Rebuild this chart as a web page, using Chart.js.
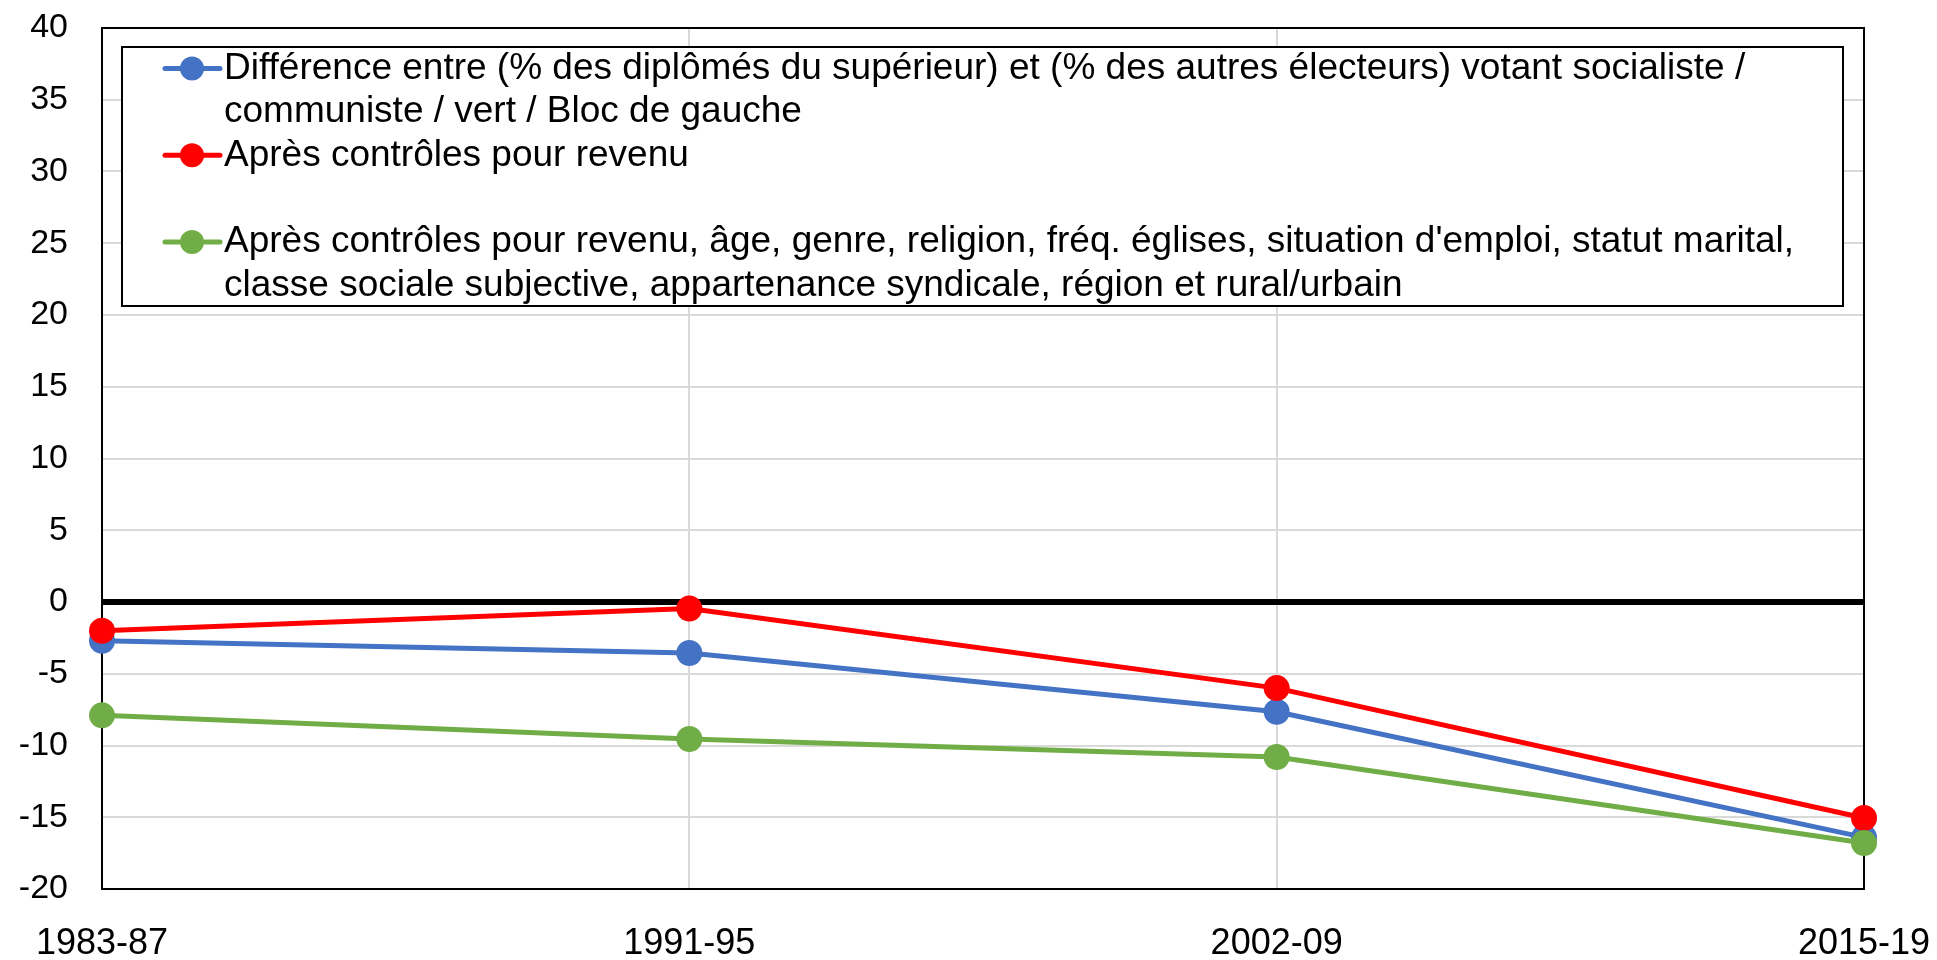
<!DOCTYPE html>
<html>
<head>
<meta charset="utf-8">
<script src="https://cdn.jsdelivr.net/npm/chart.js@4/dist/chart.umd.min.js"></script>
<style>
  body { margin: 0; background: #fff; }
</style>
</head>
<body>
<canvas id="graphique" width="1937" height="960"></canvas>
<script>
// Données
const periodes = ['1983-87', '1991-95', '2002-09', '2015-19'];
const ecartBrut = [-2.7, -3.55, -7.65, -16.4];
const apresRevenu = [-2.0, -0.45, -6.0, -15.05];
const apresTousControles = [-7.9, -9.55, -10.8, -16.8];
const axeY = { min: -20, max: 40, pas: 5 };

const libelles = [
    ['Différence entre (% des diplômés du supérieur) et (% des autres électeurs) votant socialiste /',
     'communiste / vert / Bloc de gauche'],
    ['Après contrôles pour revenu'],
    ['Après contrôles pour revenu, âge, genre, religion, fréq. églises, situation d\'emploi, statut marital,',
     'classe sociale subjective, appartenance syndicale, région et rural/urbain']
];
const couleurs = ['#4472C4', '#FF0000', '#70AD47'];

const police = 'Liberation Sans, Arial, sans-serif';

// Cadre noir + légende dessinée à l'intérieur de la zone du graphique
const cadreEtLegende = {
    id: 'cadreEtLegende',
    beforeDatasetsDraw(chart) {
        const { ctx, chartArea: a } = chart;
        ctx.save();
        ctx.strokeStyle = '#000';
        ctx.lineWidth = 2;
        ctx.strokeRect(a.left, a.top, a.right - a.left, a.bottom - a.top);

        // boîte de légende
        const bx = a.left + 20, by = a.top + 19;
        const bw = a.right - 21 - bx, bh = 306 - by;
        ctx.fillStyle = '#fff';
        ctx.fillRect(bx, by, bw, bh);
        ctx.lineWidth = 2;
        ctx.strokeRect(bx, by, bw, bh);

        ctx.font = '37px ' + police;
        ctx.textBaseline = 'middle';
        ctx.textAlign = 'left';
        const ligne = 43.4;
        const y0 = by + 21.5;
        libelles.forEach((lignes, i) => {
            const yMarque = y0 + ligne * 2 * i;
            ctx.strokeStyle = couleurs[i];
            ctx.fillStyle = couleurs[i];
            ctx.lineWidth = 5;
            ctx.lineCap = 'round';
            ctx.beginPath();
            ctx.moveTo(bx + 43, yMarque);
            ctx.lineTo(bx + 98, yMarque);
            ctx.stroke();
            ctx.beginPath();
            ctx.arc(bx + 70, yMarque, 12, 0, Math.PI * 2);
            ctx.fill();
            ctx.fillStyle = '#000';
            lignes.forEach((t, j) => ctx.fillText(t, bx + 102, yMarque + ligne * j));
        });
        ctx.restore();
    }
};

const ctx = document.getElementById('graphique').getContext('2d');

function serie(label, data, couleur, ordre) {
    return {
        label: label,
        data: data,
        borderColor: couleur,
        backgroundColor: couleur,
        borderWidth: 5,
        pointRadius: 13,
        pointHoverRadius: 13,
        pointBorderWidth: 0,
        pointBackgroundColor: couleur,
        tension: 0,
        order: ordre
    };
}

new Chart(ctx, {
    type: 'line',
    data: {
        labels: periodes,
        datasets: [
            serie(libelles[0].join(' '), ecartBrut, couleurs[0], 3),
            serie(libelles[1].join(' '), apresRevenu, couleurs[1], 2),
            serie(libelles[2].join(' '), apresTousControles, couleurs[2], 1)
        ]
    },
    options: {
        responsive: false,
        animation: false,
        layout: { padding: { left: 0, top: 28, right: 73, bottom: 0 } },
        plugins: {
            legend: { display: false },
            tooltip: { enabled: false }
        },
        scales: {
            x: {
                offset: false,
                grid: { color: '#D9D9D9', lineWidth: 2, tickLength: 33, tickColor: 'rgba(0,0,0,0)' },
                border: { color: '#000', width: 2 },
                ticks: {
                    color: '#000',
                    padding: 0,
                    maxRotation: 0,
                    font: { family: police, size: 36 }
                },
                afterFit(s) { s.height = 71; }
            },
            y: {
                min: axeY.min,
                max: axeY.max,
                grid: {
                    color: c => c.tick.value === 0 ? '#000' : '#D9D9D9',
                    lineWidth: c => c.tick.value === 0 ? 6 : 2,
                    tickLength: 34,
                    tickColor: 'rgba(0,0,0,0)'
                },
                border: { color: '#000', width: 2 },
                ticks: {
                    stepSize: axeY.pas,
                    color: '#000',
                    padding: 0,
                    font: { family: police, size: 34 }
                },
                afterFit(s) { s.width = 102; }
            }
        }
    },
    plugins: [cadreEtLegende]
});
</script>
</body>
</html>
